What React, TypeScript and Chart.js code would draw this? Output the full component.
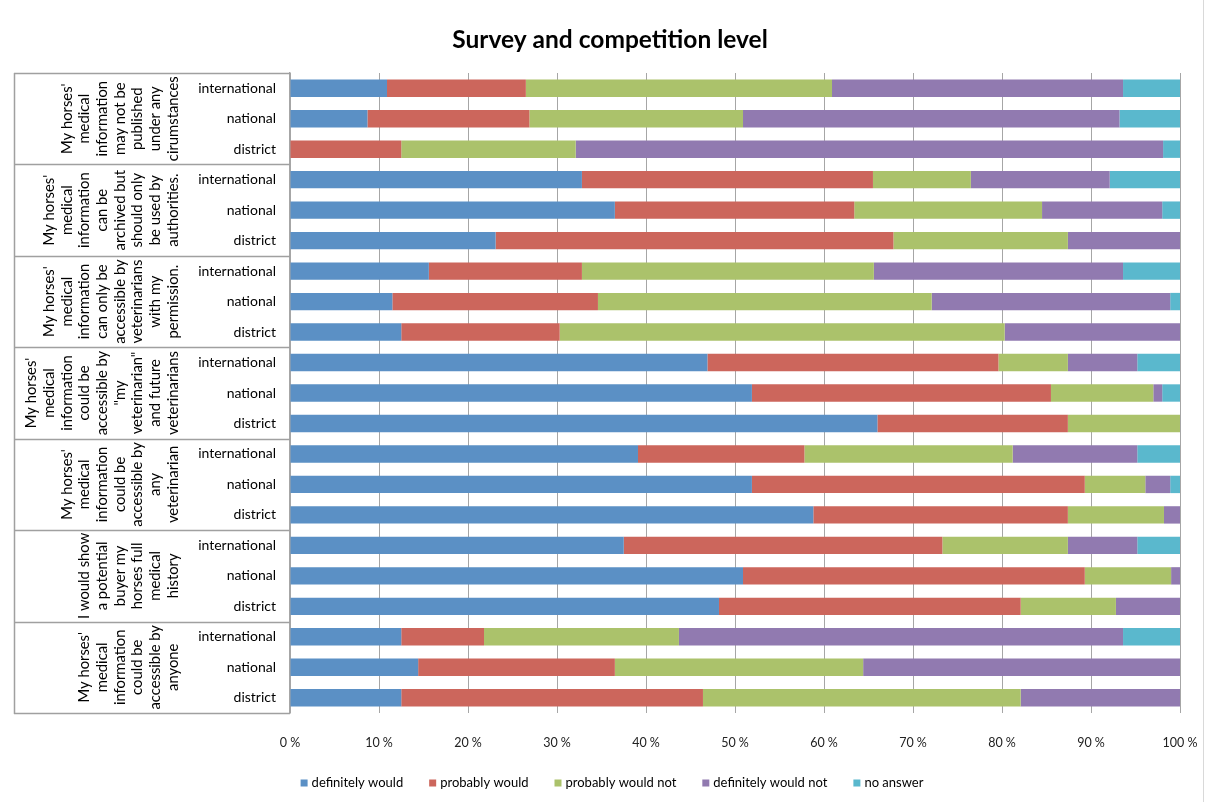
import React, { useEffect, useRef } from 'react';
import { Chart, registerables } from 'chart.js';

Chart.register(...registerables);

const FONT = 'Lato, "Open Sans", sans-serif';

const title = 'Survey and competition level';
const levels = ['international', 'national', 'district'];
const groupLabels: string[][] = [
  ["My horses'", 'medical', 'information', 'may not be', 'published', 'under any', 'cirumstances'],
  ["My horses'", 'medical', 'information', 'can be', 'archived but', 'should only', 'be used by', 'authorities.'],
  ["My horses'", 'medical', 'information', 'can only be', 'accessible by', 'veterinarians', 'with my', 'permission.'],
  ["My horses'", 'medical', 'information', 'could be', 'accessible by', '"my', 'veterinarian"', 'and future', 'veterinarians'],
  ["My horses'", 'medical', 'information', 'could be', 'accessible by', 'any', 'veterinarian'],
  ['I would show', 'a potential', 'buyer my', 'horses full', 'medical', 'history'],
  ["My horses'", 'medical', 'information', 'could be', 'accessible by', 'anyone'],
];
const categories = groupLabels.flatMap(() => levels);
const xTicks = [0, 10, 20, 30, 40, 50, 60, 70, 80, 90, 100];

const seriesNames = ['definitely would', 'probably would', 'probably would not', 'definitely would not', 'no answer'];
const seriesColors = ['#5B90C5', '#CC665C', '#ABC26B', '#917AB0', '#5AB8CD'];

const definitelyWould = [10.9, 8.7, 0, 32.8, 36.5, 23.1, 15.6, 11.5, 12.5, 46.9, 51.9, 66.0, 39.1, 51.9, 58.8, 37.5, 50.9, 48.2, 12.5, 14.4, 12.5];
const probablyWould = [15.6, 18.2, 12.5, 32.7, 26.9, 44.7, 17.2, 23.1, 17.8, 32.7, 33.6, 21.4, 18.7, 37.4, 28.6, 35.8, 38.4, 33.9, 9.3, 22.1, 33.9];
const probablyWouldNot = [34.4, 24.0, 19.6, 11.0, 21.1, 19.6, 32.8, 37.5, 50.0, 7.8, 11.5, 12.6, 23.4, 6.8, 10.8, 14.1, 9.7, 10.7, 21.9, 27.9, 35.7];
const definitelyWouldNot = [32.7, 42.3, 66.0, 15.6, 13.5, 12.6, 28.0, 26.8, 19.7, 7.8, 1.0, 0, 14.0, 2.8, 1.8, 7.8, 1.0, 7.2, 49.9, 35.6, 17.9];
const noAnswer = [6.4, 6.8, 1.9, 7.9, 2.0, 0, 6.4, 1.1, 0, 4.8, 2.0, 0, 4.8, 1.1, 0, 4.8, 0, 0, 6.4, 0, 0];

const seriesValues = [definitelyWould, probablyWould, probablyWouldNot, definitelyWouldNot, noAnswer];

const decorPlugin = {
  id: 'decor',
  afterDraw(chart: any) {
    const ctx = chart.ctx as CanvasRenderingContext2D;
    const area = chart.chartArea;
    const yScale = chart.scales.y;
    const n = categories.length;
    const band = (area.bottom - area.top) / n;
    ctx.save();

    // Title
    ctx.fillStyle = '#000';
    ctx.font = `bold 24.5px ${FONT}`;
    ctx.textAlign = 'center';
    ctx.textBaseline = 'middle';
    ctx.fillText(title, 610, 40);

    // Group separators and left line
    ctx.strokeStyle = '#a0a0a0';
    ctx.lineWidth = 1.5;
    ctx.beginPath();
    for (let g = 0; g <= groupLabels.length; g++) {
      const y = g * 3 >= n
        ? yScale.getPixelForValue(n - 1) + band / 2
        : yScale.getPixelForValue(g * 3) - band / 2;
      ctx.moveTo(14, Math.round(y) + 0.5);
      ctx.lineTo(area.left, Math.round(y) + 0.5);
    }
    ctx.moveTo(14.5, area.top);
    ctx.lineTo(14.5, area.bottom + 1);
    ctx.stroke();

    // Group labels (rotated)
    ctx.fillStyle = '#000';
    ctx.font = `14.8px ${FONT}`;
    ctx.textAlign = 'center';
    ctx.textBaseline = 'middle';
    const lineStep = 17.7;
    groupLabels.forEach((lines, g) => {
      const yc = yScale.getPixelForValue(g * 3 + 1);
      lines.forEach((line, i) => {
        const x = 173 - (lines.length - 1 - i) * lineStep;
        ctx.save();
        ctx.translate(x, yc);
        ctx.rotate(-Math.PI / 2);
        ctx.fillText(line, 0, 0);
        ctx.restore();
      });
    });

    // Legend
    ctx.font = `13px ${FONT}`;
    ctx.textAlign = 'left';
    ctx.textBaseline = 'middle';
    const box = 7;
    const gapText = 4;
    const gapItem = 26;
    const widths = seriesNames.map((s) => ctx.measureText(s).width);
    const total = widths.reduce((a, w) => a + box + gapText + w, 0) + gapItem * (seriesNames.length - 1);
    let x = 612 - total / 2;
    const ly = 783;
    seriesNames.forEach((s, i) => {
      ctx.fillStyle = seriesColors[i];
      ctx.fillRect(x, ly - box / 2, box, box);
      ctx.fillStyle = '#000';
      ctx.fillText(s, x + box + gapText, ly);
      x += box + gapText + widths[i] + gapItem;
    });

    // right frame line
    ctx.strokeStyle = '#d9d9d9';
    ctx.lineWidth = 1;
    ctx.beginPath();
    ctx.moveTo(1203.5, 0);
    ctx.lineTo(1203.5, 802);
    ctx.stroke();

    ctx.restore();
  },
};

export default function App() {
  const canvasRef = useRef<HTMLCanvasElement | null>(null);

  useEffect(() => {
    if (!canvasRef.current) return;
    const chart = new Chart(canvasRef.current, {
      type: 'bar',
      data: {
        labels: categories,
        datasets: seriesNames.map((name, i) => ({
          label: name,
          data: seriesValues[i],
          backgroundColor: seriesColors[i],
          borderWidth: 0,
          barPercentage: 0.57,
          categoryPercentage: 1,
        })),
      },
      options: {
        indexAxis: 'y',
        animation: false,
        responsive: false,
        devicePixelRatio: 1,
        layout: { padding: { left: 14, right: 33, top: 73, bottom: 0 } },
        plugins: {
          legend: { display: false },
          title: { display: false },
          tooltip: { enabled: false },
        },
        scales: {
          x: {
            stacked: true,
            min: 0,
            max: 100,
            afterBuildTicks: (scale: any) => {
              scale.ticks = xTicks.map((v) => ({ value: v }));
            },
            ticks: {
              callback: (v: any) => `${v} %`,
              font: { family: FONT, size: 12.5 },
              color: '#222',
              padding: 22,
              maxRotation: 0,
            },
            grid: { color: '#a6a6a6', lineWidth: 1, drawTicks: false },
            border: { display: false },
            afterFit: (scale: any) => {
              scale.height = 89;
              scale.paddingLeft = 0;
              scale.paddingRight = 0;
            },
          },
          y: {
            stacked: true,
            ticks: {
              font: { family: FONT, size: 14 },
              color: '#000',
              padding: 14,
              autoSkip: false,
            },
            grid: { display: false, drawTicks: false },
            border: { display: true, color: '#a6a6a6', width: 1.5 },
            afterFit: (scale: any) => {
              scale.width = 276;
            },
          },
        },
      } as any,
      plugins: [decorPlugin],
    });
    return () => chart.destroy();
  }, []);

  return (
    <div style={{ position: 'absolute', left: 0, top: 0, width: 1213, height: 802, background: '#fff' }}>
      <canvas ref={canvasRef} width={1213} height={802} style={{ width: 1213, height: 802 }} />
    </div>
  );
}
